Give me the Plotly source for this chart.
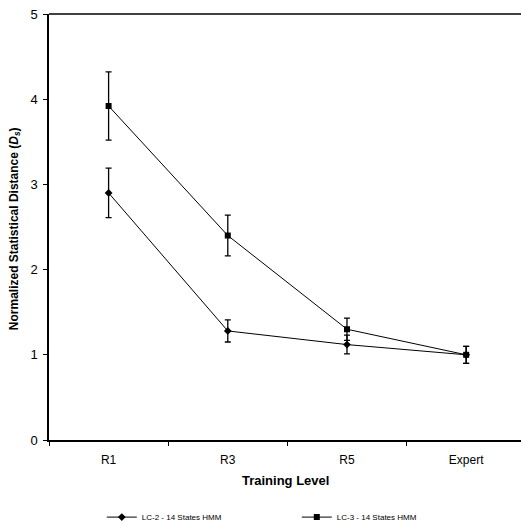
import plotly.graph_objects as go

categories = ["R1", "R3", "R5", "Expert"]
lc2_values = [2.90, 1.28, 1.12, 1.00]
lc2_errors = [0.29, 0.13, 0.11, 0.10]
lc3_values = [3.92, 2.40, 1.30, 1.00]
lc3_errors = [0.40, 0.24, 0.13, 0.10]
series_names = ["LC-2 - 14 States HMM", "LC-3 - 14 States HMM"]
x_title = "<b>Training Level</b>"
y_title = "<b>Normalized Statistical Distance (<i>D</i><sub><i>s</i></sub>)</b>"

fig = go.Figure()
fig.add_trace(go.Scatter(
    x=categories, y=lc2_values, name=series_names[0], mode="lines+markers",
    line=dict(color="black", width=1),
    marker=dict(symbol="diamond", size=6, color="black"),
    error_y=dict(type="data", array=lc2_errors, color="black", thickness=1.3, width=3),
))
fig.add_trace(go.Scatter(
    x=categories, y=lc3_values, name=series_names[1], mode="lines+markers",
    line=dict(color="black", width=1),
    marker=dict(symbol="square", size=6, color="black"),
    error_y=dict(type="data", array=lc3_errors, color="black", thickness=1.3, width=3),
))

fig.update_layout(
    width=521, height=523,
    margin=dict(l=49, r=0, t=14, b=83, autoexpand=False),
    paper_bgcolor="white", plot_bgcolor="white",
    font=dict(family="Liberation Sans, Arial, sans-serif", color="black", size=12),
    showlegend=True, hovermode=False,
    legend=dict(orientation="h", x=0.525, xanchor="center", y=-0.181, yanchor="middle",
                font=dict(size=8), itemwidth=30, entrywidth=150, entrywidthmode="pixels"),
)
fig.update_xaxes(
    type="category", range=[-0.5, 3.46], automargin=False,
    showline=True, linecolor="black", linewidth=1.5, mirror=False,
    ticks="outside", tickson="boundaries", ticklen=4, tickcolor="black",
    showgrid=False, zeroline=False, ticklabelstandoff=8,
    tickfont=dict(size=12),
)
fig.update_yaxes(
    range=[0, 5], dtick=1, automargin=False,
    showline=True, linecolor="black", linewidth=1.5,
    ticks="outside", ticklen=4, tickcolor="black",
    showgrid=False, zeroline=False, ticklabelstandoff=3,
    tickfont=dict(size=13),
)
fig.add_annotation(text=x_title, xref="paper", yref="paper", x=0.501, y=-0.094,
                   xanchor="center", yanchor="middle", showarrow=False,
                   font=dict(size=13))
fig.add_annotation(text=y_title, xref="paper", yref="paper", x=-0.072, y=0.495,
                   xanchor="center", yanchor="middle", showarrow=False,
                   textangle=-90, font=dict(size=12))
# top border line
fig.add_shape(type="line", xref="paper", yref="paper", x0=0, x1=1, y0=1, y1=1,
              line=dict(color="black", width=1.5))

fig.write_html(
    "out.html",
    config={"displayModeBar": False},
    post_script="document.body.style.margin='0';document.body.style.overflow='hidden';",
)
